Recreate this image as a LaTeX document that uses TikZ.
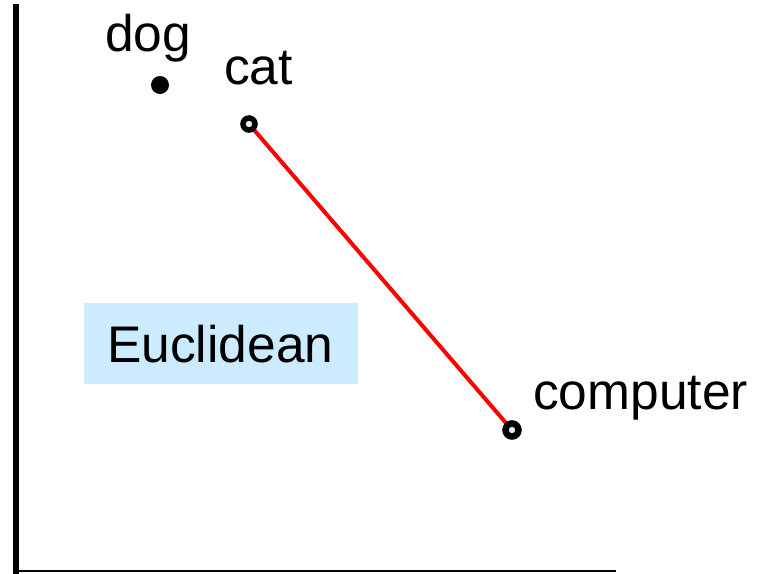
\documentclass[tikz,border=0pt]{standalone}
\usepackage{fontspec}
\setmainfont{Liberation Sans}
\definecolor{boxblue}{RGB}{204,235,255}
\definecolor{dotfill}{RGB}{220,240,245}
\begin{document}
\begin{tikzpicture}[x=1pt,y=-1pt,
  word/.style={anchor=base west,inner sep=0pt,font=\fontsize{51.5}{60}\selectfont},
  solid dot/.style={circle,fill=black,minimum size=18pt,inner sep=0pt},
  open dot/.style={circle,draw=black,line width=5.5pt,fill=dotfill,minimum size=12pt,inner sep=0pt},
  axis/.style={black,line cap=rect}]
\useasboundingbox (0,0) rectangle (757,573);
% axes
\draw[axis,line width=6pt] (16,7) -- (16,571);
\draw[axis,line width=2.5pt] (16,571) -- (615,571);
% label box
\fill[boxblue] (84,303) rectangle (358,384);
\node[word] (eu) at (107,362) {Euclidean};
% points and the segment joining cat and computer
\coordinate (catp) at (249,124);
\coordinate (compp) at (512,430);
\draw[red,line width=4pt] (catp) -- (compp);
\node[solid dot] (dog) at (160,85) {};
\node[open dot] (cat) at (catp) {};
\node[open dot,minimum size=13pt,line width=6.5pt] (comp) at (compp) {};
% labels
\node[word] (dogl) at (105,51) {dog};
\node[word] (catl) at (224,84) {cat};
\node[word] (compl) at (533,409) {computer};
\end{tikzpicture}
\end{document}
